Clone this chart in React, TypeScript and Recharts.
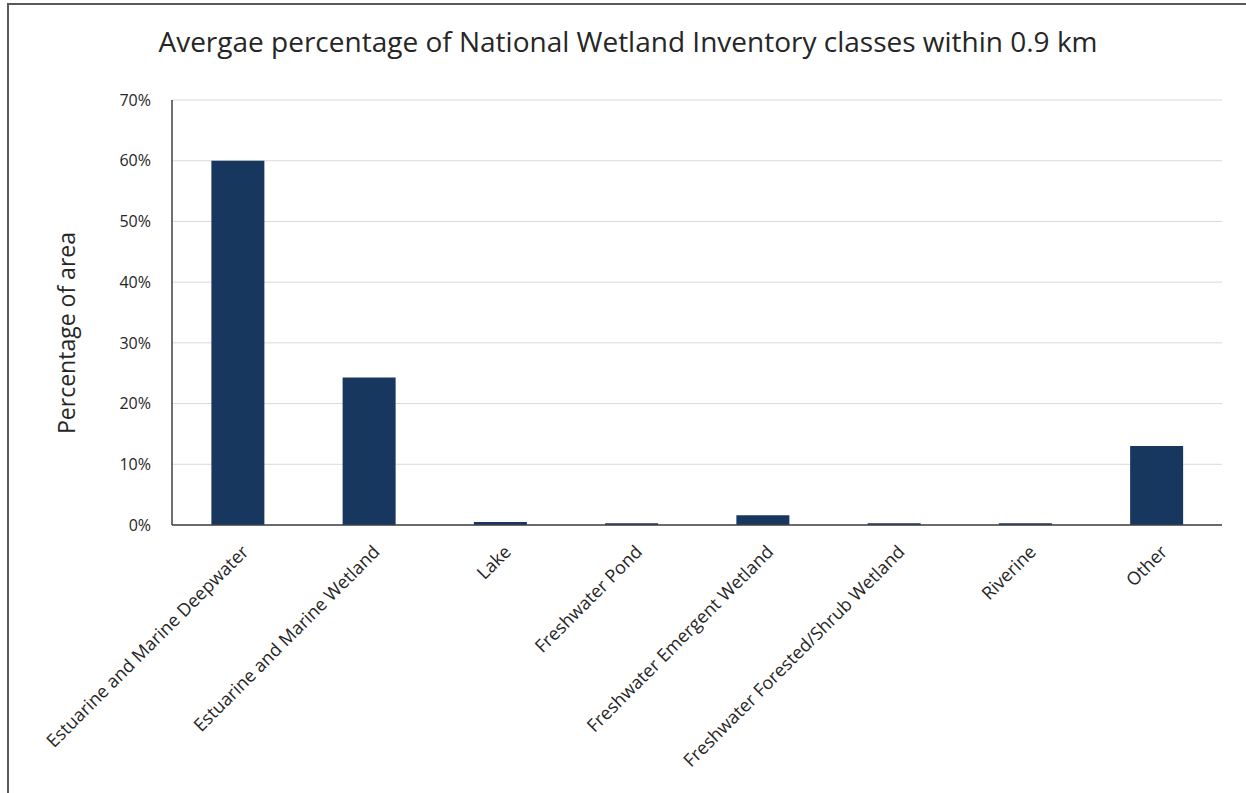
import React from 'react';
import { BarChart, Bar, XAxis, YAxis, CartesianGrid } from 'recharts';

const classes = [
  'Estuarine and Marine Deepwater',
  'Estuarine and Marine Wetland',
  'Lake',
  'Freshwater Pond',
  'Freshwater Emergent Wetland',
  'Freshwater Forested/Shrub Wetland',
  'Riverine',
  'Other',
];
const avgPercent = [0.6, 0.243, 0.005, 0.003, 0.016, 0.003, 0.003, 0.13];
const yTicks = [0, 0.1, 0.2, 0.3, 0.4, 0.5, 0.6, 0.7];

const data = classes.map((name, i) => ({ name, value: avgPercent[i] }));

const FONT = '"Open Sans", "Noto Sans", sans-serif';

const XTick = (props: any) => {
  const { x, y, payload } = props;
  return (
    <g transform={`translate(${x + 12},${y + 22})`}>
      <text textAnchor="end" transform="rotate(-45)" fontSize={18} fill="#262626" fontFamily={FONT}>
        {payload.value}
      </text>
    </g>
  );
};

export default function App() {
  return (
    <div
      style={{
        position: 'absolute',
        left: 7,
        top: 3,
        width: 1260,
        height: 800,
        borderTop: '2px solid #595959',
        borderLeft: '2px solid #595959',
        background: '#fff',
      }}
    >
      <div
        style={{
          position: 'absolute',
          left: 0,
          width: 1238,
          top: 17,
          textAlign: 'center',
          fontFamily: FONT,
          fontSize: 28,
          color: '#262626',
        }}
      >
        Avergae percentage of National Wetland Inventory classes within 0.9 km
      </div>
      <div
        style={{
          position: 'absolute',
          left: 57,
          top: 328,
          transform: 'translate(-50%, -50%) rotate(-90deg)',
          whiteSpace: 'nowrap',
          fontFamily: FONT,
          fontSize: 23,
          color: '#262626',
        }}
      >
        Percentage of area
      </div>
      <div style={{ position: 'absolute', left: 0, top: 0 }}>
        <BarChart
          width={1240}
          height={790}
          data={data}
          margin={{ top: 95, right: 27, left: 103, bottom: 50 }}
          barCategoryGap="30%"
        >
          <CartesianGrid vertical={false} stroke="#d9d9d9" />
          <XAxis
            dataKey="name"
            interval={0}
            tick={<XTick />}
            tickLine={false}
            tickMargin={0}
            axisLine={{ stroke: '#404040', strokeWidth: 1.5 }}
            height={220}
          />
          <YAxis
            domain={[0, 0.7]}
            ticks={yTicks}
            tickFormatter={(v: number) => `${Math.round(v * 100)}%`}
            tickLine={false}
            tickSize={6}
            tickMargin={15}
            axisLine={{ stroke: '#404040', strokeWidth: 1.5 }}
            width={60}
            tick={{ fontSize: 16, fill: '#262626', fontFamily: FONT }}
          />
          <Bar dataKey="value" fill="#17375e" isAnimationActive={false} />
        </BarChart>
      </div>
    </div>
  );
}
